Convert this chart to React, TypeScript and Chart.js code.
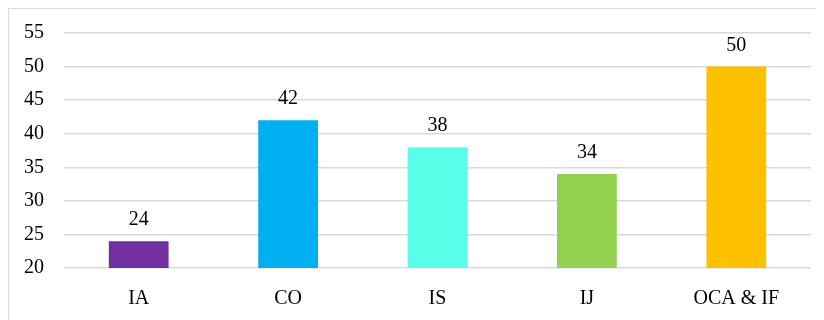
import React, { useEffect, useRef } from "react";
import { Chart, registerables } from "chart.js";

Chart.register(...registerables);

const categories = ["IA", "CO", "IS", "IJ", "OCA & IF"];
const values = [24, 42, 38, 34, 50];
const barColors = ["#7030A0", "#00B0F0", "#57FFE9", "#92D050", "#FFC000"];
const yMin = 20;
const yMax = 55;
const yStep = 5;

const FONT = "'Liberation Serif', 'Times New Roman', serif";

// Draws each bar's value centred above it
const valueLabels = {
  id: "valueLabels",
  afterDatasetsDraw(chart: any) {
    const ctx = chart.ctx;
    const meta = chart.getDatasetMeta(0);
    ctx.save();
    ctx.font = `20px ${FONT}`;
    ctx.fillStyle = "#000";
    ctx.textAlign = "center";
    ctx.textBaseline = "alphabetic";
    meta.data.forEach((bar: any, i: number) => {
      ctx.fillText(String(values[i]), bar.x, bar.y - 16);
    });
    ctx.restore();
  },
};

export default function App() {
  const canvasRef = useRef<HTMLCanvasElement | null>(null);

  useEffect(() => {
    if (!canvasRef.current) return;
    const chart = new Chart(canvasRef.current, {
      type: "bar",
      data: {
        labels: categories,
        datasets: [
          {
            data: values,
            backgroundColor: barColors,
            borderWidth: 0,
            categoryPercentage: 1,
            barPercentage: 0.4,
          },
        ],
      },
      options: {
        responsive: false,
        animation: false,
        layout: { padding: { top: 24, right: 14, left: 0, bottom: 0 } },
        plugins: {
          legend: { display: false },
          tooltip: { enabled: false },
        },
        scales: {
          x: {
            grid: { display: false },
            border: { display: false },
            ticks: {
              color: "#000",
              font: { family: FONT, size: 20 },
              padding: 11,
              maxRotation: 0,
            },
            afterFit: (s: any) => {
              s.height = 53;
              s.paddingLeft = 0;
              s.paddingRight = 0;
            },
          },
          y: {
            min: yMin,
            max: yMax,
            grid: { color: "#d9d9d9", lineWidth: 1.5, drawTicks: false },
            border: { display: false },
            ticks: {
              stepSize: yStep,
              color: "#000",
              font: { family: FONT, size: 20 },
              padding: 20,
            },
            afterFit: (s: any) => {
              s.width = 55;
              s.paddingTop = 0;
              s.paddingBottom = 0;
            },
          },
        },
      },
      plugins: [valueLabels],
    });
    return () => chart.destroy();
  }, []);

  return (
    <div
      style={{
        width: 818,
        height: 314,
        boxSizing: "border-box",
        border: "1px solid #d9d9d9",
        background: "#fff",
      }}
    >
      <canvas ref={canvasRef} width={816} height={312} style={{ display: "block" }} />
    </div>
  );
}
